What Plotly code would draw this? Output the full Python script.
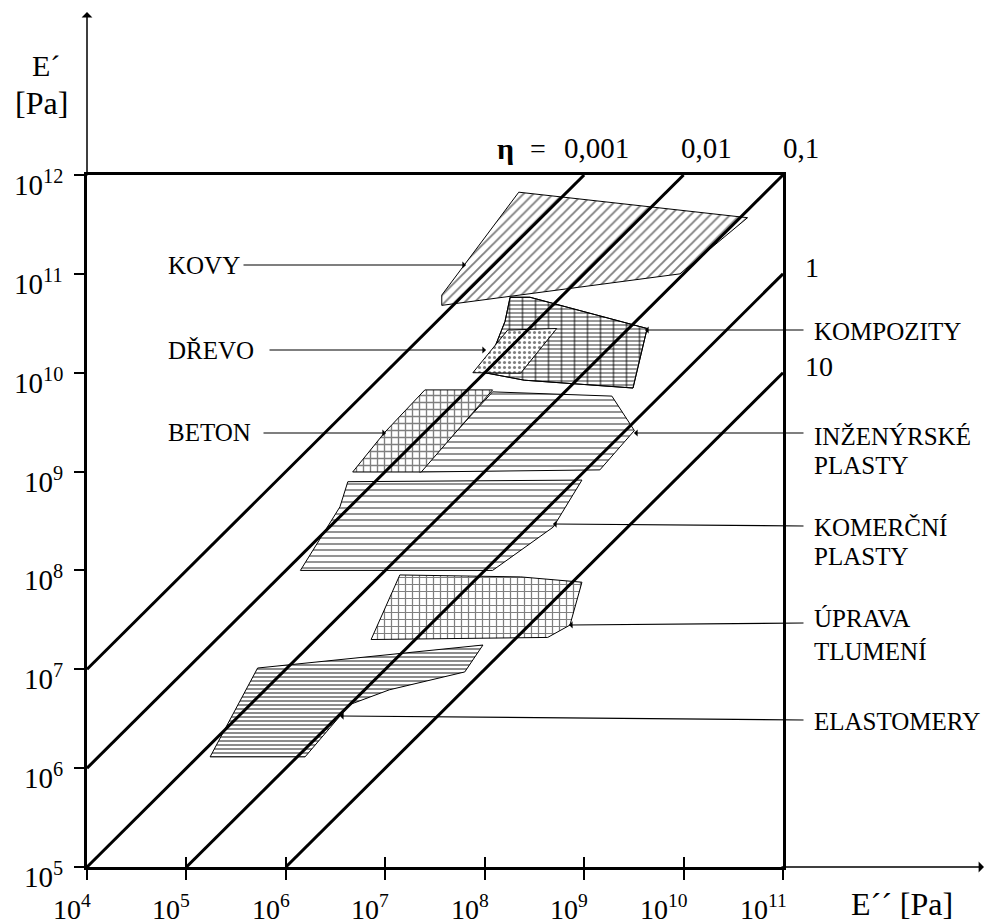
import plotly.graph_objects as go

# ---------------- data (E'' = loss modulus, E' = storage modulus, Pa) ----------------
eta_values = [0.001, 0.01, 0.1, 1, 10]
eta_labels = ["0,001", "0,01", "0,1", "1", "10"]

x_tick_exponents = [4, 5, 6, 7, 8, 9, 10, 11]
y_tick_exponents = [5, 6, 7, 8, 9, 10, 11, 12]
x_tick_labels = ["10<sup>4</sup>", "10<sup>5</sup>", "10<sup>6</sup>", "10<sup>7</sup>",
                 "10<sup>8</sup>", "10<sup>9</sup>", "10<sup>10</sup>", "10<sup>11</sup>"]
y_tick_labels = ["10<sup>5</sup>", "10<sup>6</sup>", "10<sup>7</sup>", "10<sup>8</sup>",
                 "10<sup>9</sup>", "10<sup>10</sup>", "10<sup>11</sup>", "10<sup>12</sup>"]

kovy_E2 = [2.2e8, 4.4e10, 9.2e9, 3.7e7, 3.7e7]
kovy_E1 = [6.7e11, 3.7e11, 1.0e11, 4.8e10, 6.1e10]

kompozity_E2 = [1.8e8, 2.85e8, 4.3e9, 3.1e9, 2.5e8, 1.0e8, 1.6e8]
kompozity_E1 = [5.8e10, 5.8e10, 2.8e10, 7.0e9, 8.4e9, 1.0e10, 3.3e10]

drevo_E2 = [1.7e8, 5.3e8, 2.3e8, 7.6e7]
drevo_E1 = [2.7e10, 2.8e10, 9.9e9, 1.0e10]

beton_E2 = [4.7e6, 9.9e6, 2.5e7, 1.2e8, 2.3e7]
beton_E1 = [9.9e8, 2.5e9, 6.7e9, 6.7e9, 9.9e8]

inz_plasty_E2 = [1.2e8, 1.9e9, 3.2e9, 1.44e9, 2.2e7]
inz_plasty_E1 = [6.4e9, 5.8e9, 2.6e9, 1.04e9, 9.9e8]

kom_plasty_E2 = [4.2e6, 9.5e8, 4.9e8, 1.2e8, 1.4e6, 3.5e6]
kom_plasty_E1 = [7.9e8, 8.2e8, 2.75e8, 1.0e8, 1.0e8, 4.4e8]

uprava_E2 = [1.4e7, 2.3e8, 9.5e8, 7.2e8, 4.3e8, 7.2e6]
uprava_E1 = [9.0e7, 8.6e7, 7.6e7, 2.8e7, 2.1e7, 2.0e7]

elast_E2 = [5.2e5, 9.6e7, 6.3e7, 1.1e7, 4.4e6, 1.56e6, 1.73e5]
elast_E1 = [1.03e7, 1.76e7, 9.4e6, 6.2e6, 4.4e6, 1.3e6, 1.3e6]

# ---------------- layout geometry ----------------
W, H = 989, 921
L, R, T, B = 87, 206, 175, 54
PW, PH = W - L - R, H - T - B
FONT = "Liberation Serif"


def px(xp):
    return (xp - L) / PW


def py(yp):
    return (H - B - yp) / PH


fig = go.Figure()


def poly(xs, ys, shape, size, solidity, bg="white"):
    fig.add_trace(go.Scatter(
        x=xs + xs[:1], y=ys + ys[:1], mode="lines", fill="toself",
        fillcolor=bg,
        fillpattern=dict(shape=shape, size=size, solidity=solidity,
                         fgcolor="black", bgcolor=bg),
        line=dict(color="black", width=1), hoverinfo="skip", showlegend=False))


poly(kompozity_E2, kompozity_E1, "-", 4, 0.4)
poly(kompozity_E2, kompozity_E1, "|", 13, 0.14, bg="rgba(0,0,0,0)")
poly(drevo_E2, drevo_E1, ".", 5, 0.3)
poly(inz_plasty_E2, inz_plasty_E1, "-", 6, 0.28)
poly(beton_E2, beton_E1, "+", 7, 0.35)
poly(kom_plasty_E2, kom_plasty_E1, "-", 6, 0.28)
poly(kovy_E2, kovy_E1, "/", 7, 0.27)
poly(uprava_E2, uprava_E1, "+", 7, 0.32)
poly(elast_E2, elast_E1, "-", 4, 0.45)

# iso-loss-factor lines  E'' = eta * E'
XMIN, XMAX, YMIN, YMAX = 1e4, 1e11, 1e5, 1e12
for eta in eta_values:
    x0 = max(XMIN, eta * YMIN)
    x1 = min(XMAX, eta * YMAX)
    fig.add_trace(go.Scatter(x=[x0, x1], y=[x0 / eta, x1 / eta], mode="lines",
                             line=dict(color="black", width=3),
                             hoverinfo="skip", showlegend=False))

ann = []


def label(xp, yp, text, size, xanchor="center", yanchor="middle"):
    ann.append(dict(x=px(xp), y=py(yp), xref="paper", yref="paper", text=text,
                    showarrow=False, xanchor=xanchor, yanchor=yanchor,
                    font=dict(family=FONT, size=size, color="black")))


# tick labels
for e, t in zip(x_tick_exponents, x_tick_labels):
    ann.append(dict(x=e, y=0, xref="x", yref="paper", text=t, showarrow=False,
                    xanchor="right", yanchor="top", xshift=6, yshift=-21,
                    font=dict(family=FONT, size=28, color="black")))
for e, t in zip(y_tick_exponents, y_tick_labels):
    ann.append(dict(x=0, y=e, xref="paper", yref="y", text=t, showarrow=False,
                    xanchor="right", yanchor="middle", xshift=-22, yshift=-8,
                    font=dict(family=FONT, size=29, color="black")))

# axis titles
label(46, 66, "E´", 30)
label(41, 103, "[Pa]", 32)
label(902, 904, "E´´ [Pa]", 32)

# eta labels
label(505, 148, "<b>η</b>", 30)
label(538, 148, "=", 28)
label(562, 148, eta_labels[0], 29, xanchor="left")
label(706, 148, eta_labels[1], 29)
label(801, 148, eta_labels[2], 29)
label(803, 268, eta_labels[3], 28, xanchor="left")
label(803, 366, eta_labels[4], 28, xanchor="left")

# material labels
left_labels = [("KOVY", 265), ("DŘEVO", 350), ("BETON", 433)]
for t, yy in left_labels:
    label(166, yy, t, 25, xanchor="left")
right_labels = [("KOMPOZITY", 331), ("INŽENÝRSKÉ", 436), ("PLASTY", 465),
                ("KOMERČNÍ", 527), ("PLASTY", 556), ("ÚPRAVA", 618),
                ("TLUMENÍ", 651), ("ELASTOMERY", 721)]
for t, yy in right_labels:
    label(812, yy, t, 25, xanchor="left")

# leader arrows: (start_x, start_y, end_x, end_y) in pixels
leaders = [(242, 265, 466, 265), (268, 350, 486, 350), (262, 433, 386, 433),
           (805, 330, 645, 330), (805, 433, 634, 433), (805, 526, 553, 524),
           (805, 623, 569, 625), (805, 720, 340, 716)]
for sx, sy, ex, ey in leaders:
    ann.append(dict(x=px(ex), y=py(ey), xref="paper", yref="paper", text="",
                    showarrow=True, ax=sx - ex, ay=sy - ey, arrowhead=1,
                    arrowsize=1, arrowwidth=1.2, arrowcolor="black"))

# axis arrows
ann.append(dict(x=px(87), y=py(12), xref="paper", yref="paper", text="",
                showarrow=True, ax=0, ay=165, arrowhead=1, arrowsize=1.2,
                arrowwidth=1.5, arrowcolor="black"))
ann.append(dict(x=px(984), y=py(867), xref="paper", yref="paper", text="",
                showarrow=True, ax=-204, ay=0, arrowhead=1, arrowsize=1.2,
                arrowwidth=1.5, arrowcolor="black"))

fig.update_layout(
    width=W, height=H, margin=dict(l=L, r=R, t=T, b=B),
    paper_bgcolor="white", plot_bgcolor="white",
    showlegend=False, annotations=ann,
    xaxis=dict(type="log", range=[4, 11], showgrid=False, zeroline=False,
               showline=True, linewidth=3, linecolor="black", mirror=True,
               ticks="outside", ticklen=10, tickwidth=1.5, tickcolor="black",
               tickvals=[10 ** e for e in x_tick_exponents], showticklabels=False),
    xaxis2=dict(type="log", range=[4, 11], overlaying="x", anchor="y", side="bottom",
                showgrid=False, zeroline=False, showline=False,
                ticks="inside", ticklen=10, tickwidth=1.5, tickcolor="black",
                tickvals=[10 ** e for e in x_tick_exponents], showticklabels=False),
    yaxis=dict(type="log", range=[5, 12], showgrid=False, zeroline=False,
               showline=True, linewidth=3, linecolor="black", mirror=True,
               ticks="outside", ticklen=10, tickwidth=1.5, tickcolor="black",
               tickvals=[10 ** e for e in y_tick_exponents], showticklabels=False),
)
# invisible trace to activate xaxis2 ticks
fig.add_trace(go.Scatter(x=[1e4], y=[1e5], xaxis="x2", mode="markers",
                         marker=dict(opacity=0), hoverinfo="skip", showlegend=False))

fig.write_html("out.html", config={"displayModeBar": False},
               post_script="document.body.style.margin='0';"
                           "document.body.style.overflow='hidden';")
